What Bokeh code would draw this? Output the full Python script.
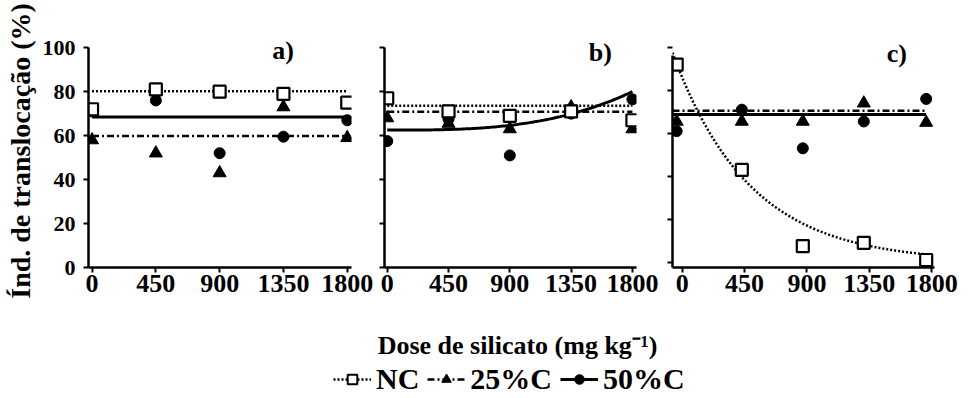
import numpy as np
from bokeh.plotting import figure
from bokeh.models import Range1d, FixedTicker, Label, Legend, LegendItem
from bokeh.layouts import row, column
from bokeh.embed import file_html
from bokeh.resources import INLINE

# ---------------- data ----------------
doses = [0, 450, 900, 1350, 1800]
doses_c = [-40, 430, 870, 1310, 1760]
x_ticks = [0, 450, 900, 1350, 1800]
y_ticks = [0, 20, 40, 60, 80, 100]

# panel a)
a_nc = [72, 81, 80, 79, 75]
a_25 = [58, 52, 43, 73, 59]
a_50 = [71, 76, 52, 59.5, 67]
a_fit_nc = 80.2
a_fit_25 = 59.8
a_fit_50 = 68.5

# panel b)
b_nc = [77, 71, 69, 71, 67]
b_25 = [68, 65.5, 63, 73, 63]
b_50 = [57.5, 67.5, 51, 70, 76.5]
b_fit_nc = 73.6
b_fit_25 = 70.8
b_fit_50_coef = [62.5, 0.0, 0.0, 3.0e-9]   # cubic regression coefficients

# panel c)
c_nc = [92, 43, 7.5, 9, 1]
c_25 = [65.5, 65.5, 65.5, 74, 65]
c_50 = [61, 71, 53, 65.5, 76]
c_fit_nc_a, c_fit_nc_k = 86.0, 0.0018       # exponential regression a*exp(-k*x)
c_fit_25 = 70.5
c_fit_50 = 68.8

FONT = "Liberation Serif"
DOT = "2 2"
DASHDOT = "7 3 2 3"


def style(p, show_ylabels, ybounds):
    p.grid.visible = False
    p.outline_line_color = None
    p.xaxis.ticker = FixedTicker(ticks=x_ticks)
    p.yaxis.ticker = FixedTicker(ticks=y_ticks)
    p.yaxis.bounds = ybounds
    for ax in (p.xaxis[0], p.yaxis[0]):
        ax.axis_line_width = 2.5
        ax.axis_line_color = "black"
        ax.major_tick_line_width = 2
        ax.major_tick_line_color = "black"
        ax.major_tick_out = 5
        ax.major_tick_in = 0
        ax.minor_tick_line_color = None
        ax.major_label_text_font = FONT
        ax.major_label_text_font_style = "bold"
        ax.major_label_text_color = "black"
        ax.axis_label_text_font = FONT
        ax.axis_label_text_font_style = "bold"
        ax.axis_label_text_color = "black"
        ax.axis_label_text_font_size = "28px"
    p.xaxis.major_label_text_font_size = "26px"
    p.xaxis.major_label_standoff = 2
    p.yaxis.major_label_text_font_size = "22px"
    if show_ylabels:
        p.yaxis.major_label_standoff = 8
    else:
        p.yaxis.major_label_overrides = {t: "" for t in y_ticks}
        p.yaxis.major_label_standoff = 0


def make(xr, yr, fw, bl, br):
    p = figure(frame_width=fw, frame_height=233, x_range=Range1d(*xr),
               y_range=Range1d(*yr), min_border_left=bl, min_border_right=br,
               min_border_top=34, min_border_bottom=38,
               output_backend="svg", toolbar_location=None)
    return p


def points(p, x, nc, t25, c50):
    p.scatter(x, t25, marker="triangle", size=13, color="black")
    p.scatter(x, c50, marker="circle", size=11, color="black")
    p.scatter(x, nc, marker="square", size=12, fill_color="white",
              line_color="black", line_width=2.2)


def tag(p, x, y, t):
    p.add_layout(Label(x=x, y=y, text=t, text_font=FONT, text_font_style="bold",
                       text_font_size="26px", text_align="center",
                       text_baseline="middle", text_color="black"))


# ---------------- panel a ----------------
pa = make((-25, 1830), (0, 106), 263, 88, 24)
style(pa, True, (0, 100))
pa.yaxis.axis_label = "Índ. de translocação (%)"
pa.yaxis.axis_label_standoff = 4
xa = [doses[0], doses[-1]]
pa.line(xa, [a_fit_nc, a_fit_nc], line_dash=DOT, line_width=2.5, color="black")
pa.line(xa, [a_fit_25, a_fit_25], line_dash=DASHDOT, line_width=2.5, color="black")
pa.line(xa, [a_fit_50, a_fit_50], line_width=3, color="black")
points(pa, doses, a_nc, a_25, a_50)
tag(pa, 1348, 98.5, "a)")

# ---------------- panel b ----------------
pb = make((-20, 1830), (0, 106), 252, 9, 24)
style(pb, False, (0, 100))
pb.line(xa, [b_fit_nc, b_fit_nc], line_dash=DOT, line_width=2.5, color="black")
pb.line(xa, [b_fit_25, b_fit_25], line_dash=DASHDOT, line_width=2.5, color="black")
xb = np.linspace(doses[0], doses[-1], 120)
yb = sum(c * xb ** i for i, c in enumerate(b_fit_50_coef))
pb.line(xb, yb, line_width=3, color="black")
points(pb, doses, b_nc, b_25, b_50)
tag(pb, 1565, 98, "b)")

# ---------------- panel c ----------------
c_start = -70
pc = make((c_start, 1820), (-2.5, 106), 262, 12, 35)
style(pc, False, (-2.5, 96))
xc = np.linspace(c_start, doses[-1], 200)
pc.line(xc, c_fit_nc_a * np.exp(-c_fit_nc_k * xc), line_dash=DOT, line_width=2.5, color="black")
xcl = [c_start, doses_c[-1]]
pc.line(xcl, [c_fit_25, c_fit_25], line_dash=DASHDOT, line_width=2.5, color="black")
pc.line(xcl, [c_fit_50, c_fit_50], line_width=3, color="black")
points(pc, doses_c, c_nc, c_25, c_50)
tag(pc, 1548, 97, "c)")

# ---------------- x title + legend ----------------
q = figure(width=969, height=93, x_range=Range1d(0, 969), y_range=Range1d(0, 93),
           x_axis_type=None, y_axis_type=None, min_border=0,
           output_backend="svg", toolbar_location=None)
q.outline_line_color = None
q.grid.visible = False
q.add_layout(Label(x=517, y=53, text="Dose de silicato (mg kg⁻¹)", text_font=FONT,
                   text_font_style="bold", text_font_size="26px", text_align="center",
                   text_baseline="middle", text_color="black"))
# legend proxies (hidden renderers, only their styles are shown in the legend)
l1 = q.line(doses, a_nc, line_dash=DOT, line_width=2.5, color="black", visible=False)
m1 = q.scatter(doses, a_nc, marker="square", size=11, fill_color="white",
               line_color="black", line_width=2, visible=False)
l2 = q.line(doses, a_25, line_dash=DASHDOT, line_width=2.5, color="black", visible=False)
m2 = q.scatter(doses, a_25, marker="triangle", size=12, color="black", visible=False)
l3 = q.line(doses, a_50, line_width=3, color="black", visible=False)
m3 = q.scatter(doses, a_50, marker="circle", size=11, color="black", visible=False)
legend = Legend(items=[LegendItem(label="NC", renderers=[l1, m1]),
                       LegendItem(label="25%C", renderers=[l2, m2]),
                       LegendItem(label="50%C", renderers=[l3, m3])],
                orientation="horizontal", location=(333, 2),
                label_text_font=FONT, label_text_font_style="bold",
                label_text_font_size="30px", label_text_color="black",
                glyph_width=38, glyph_height=24, label_standoff=5, spacing=8,
                padding=0, margin=0, border_line_color=None,
                background_fill_alpha=0, inactive_fill_alpha=0)
q.add_layout(legend)

layout = column(row(pa, pb, pc), q)
open("out.html", "w").write(file_html(layout, INLINE))
